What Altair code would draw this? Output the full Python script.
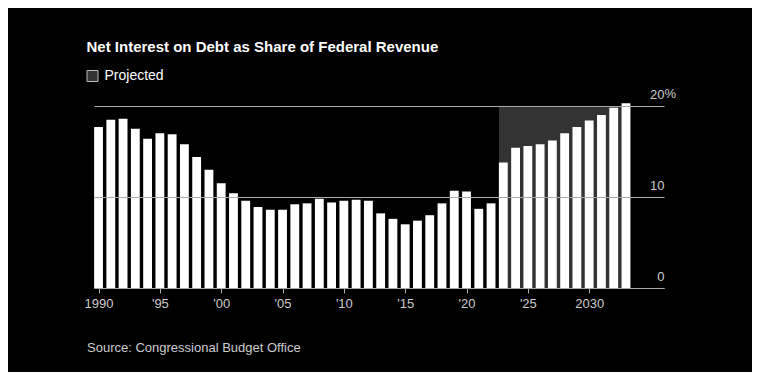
import altair as alt
import pandas as pd

# ---- data ----
years = list(range(1990, 2034))
share = [17.7, 18.5, 18.6, 17.5, 16.4, 17.0, 16.9, 15.8, 14.4, 13.0,
         11.5, 10.4, 9.6, 8.9, 8.6, 8.6, 9.2, 9.3, 9.8, 9.4,
         9.6, 9.7, 9.6, 8.2, 7.6, 7.0, 7.4, 8.0, 9.3, 10.7,
         10.6, 8.7, 9.3, 13.8, 15.4, 15.6, 15.8, 16.2, 17.0, 17.7,
         18.4, 19.0, 19.8, 20.3]
projected_years = [2023, 2033]
projected_label = ["Projected"]
x_tick_years = [1990, 1995, 2000, 2005, 2010, 2015, 2020, 2025, 2030]
y_ticks = [0, 10, 20]

FONT = "Liberation Sans"
HALF = 0.36  # half bar width in years

bars_df = pd.DataFrame({"year": years, "share": share})
shade_df = pd.DataFrame({
    "start": [projected_years[0]],
    "end": [projected_years[1]],
    "lo": [y_ticks[0]],
    "hi": [y_ticks[-1]],
    "label": projected_label,
})

xscale = alt.Scale(domain=[1989.63, 2036.1], nice=False, zero=False)
yscale = alt.Scale(domain=[0, 20], nice=False)

label_expr = ("(datum.value == 1990 || datum.value == 2030) ? '' + datum.value : "
              "\"'\" + substring('' + datum.value, 2, 4)")

x_axis = alt.Axis(
    values=x_tick_years, labelExpr=label_expr, grid=False,
    domainColor="#aaaaaa", domainWidth=1, tickColor="#aaaaaa", tickSize=5,
    labelColor="#cccccc", labelFontSize=13, labelFont=FONT, labelPadding=4,
    title="Source: Congressional Budget Office", titleAnchor="start",
    titleAlign="left", titleX=-7.5, titleY=63, titleBaseline="alphabetic",
    titleColor="#cccccc", titleFontSize=13, titleFont=FONT,
    titleFontWeight="normal", zindex=1,
)
y_axis = alt.Axis(
    orient="right", values=y_ticks, grid=True, gridColor="#aaaaaa",
    gridWidth=1, domain=False, ticks=False, tickSize=0,
    labelAlign="right", labelBaseline="alphabetic", labelOffset=-8,
    labelPadding=0, labelColor="#cccccc", labelFontSize=13, labelFont=FONT,
    title=None, zindex=1,
)

shade = alt.Chart(shade_df).transform_calculate(
    x0=f"datum.start - {HALF}", x1=f"datum.end + {HALF}"
).mark_rect().encode(
    x=alt.X("x0:Q", scale=xscale, axis=x_axis),
    x2="x1:Q",
    y=alt.Y("lo:Q", scale=yscale, axis=y_axis),
    y2="hi:Q",
    color=alt.Color(
        "label:N",
        scale=alt.Scale(domain=projected_label, range=["#333333"]),
        legend=alt.Legend(
            orient="none", legendX=-8.5, legendY=-37, title=None,
            symbolType="square", symbolSize=121, symbolStrokeColor="#bbbbbb",
            symbolStrokeWidth=1, symbolFillColor="#333333",
            labelColor="#ffffff", labelFontSize=14, labelFont=FONT, labelOffset=5,
        ),
    ),
)

bars = alt.Chart(bars_df).transform_calculate(
    x0=f"datum.year - {HALF}", x1=f"datum.year + {HALF}"
).mark_rect(color="#ffffff").encode(
    x=alt.X("x0:Q", scale=xscale, axis=x_axis),
    x2="x1:Q",
    y=alt.Y("share:Q", scale=yscale, axis=y_axis),
)

pct = alt.Chart(pd.DataFrame({"t": ["%"], "v": [y_ticks[-1]]})).mark_text(
    align="left", baseline="alphabetic", dy=-8, fontSize=13, font=FONT,
    color="#cccccc",
).encode(
    x=alt.value(570.5),
    y=alt.Y("v:Q", scale=yscale, axis=y_axis),
    text="t:N",
)

chart = alt.layer(shade, bars, pct).properties(
    width=570,
    height=182,
    autosize=alt.AutoSizeParams(type="none"),
    padding={"left": 86, "top": 98, "right": 88, "bottom": 84},
    title=alt.TitleParams(
        text="Net Interest on Debt as Share of Federal Revenue",
        anchor="start", frame="group", dx=-7.5, offset=14,
        fontSize=15, font=FONT, fontWeight="bold", color="#ffffff",
    ),
).configure(background="#000000").configure_view(stroke=None)

chart.save("out.html", embed_options={"renderer": "svg", "actions": False})
